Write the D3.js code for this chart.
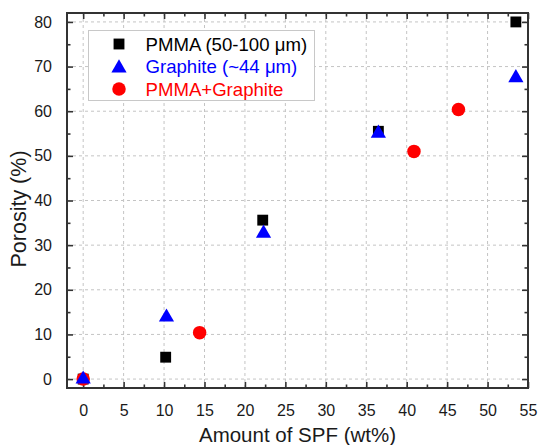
<!DOCTYPE html>
<html>
<head>
<meta charset="utf-8">
<script src="https://cdn.jsdelivr.net/npm/d3@7"></script>
<style>
  html, body { margin: 0; padding: 0; background: #fff; }
  svg { display: block; font-family: Arial, "Liberation Sans", Helvetica, sans-serif; }
</style>
</head>
<body>
<svg id="chart" width="539" height="445"></svg>
<script>
// Porosity vs. amount of space-holder (SPF) for three pore formers
const pmmaX = [0, 10.2, 22.2, 36.5, 53.5];
const pmmaY = [0, 4.9, 35.6, 55.5, 80];
const graphiteX = [0, 10.3, 22.3, 36.5, 53.5];
const graphiteY = [0.3, 14.2, 33.0, 55.4, 67.8];
const mixX = [0, 14.4, 40.9, 46.4];
const mixY = [0, 10.4, 51.0, 60.4];

const seriesNames = ["PMMA (50-100 μm)", "Graphite (~44 μm)", "PMMA+Graphite"];
const xTicks = [0, 5, 10, 15, 20, 25, 30, 35, 40, 45, 50, 55];
const yTicks = [0, 10, 20, 30, 40, 50, 60, 70, 80];
const xTitle = "Amount of SPF (wt%)";
const yTitle = "Porosity (%)";

const svg = d3.select("#chart");
const plotLeft = 67, plotRight = 528, plotTop = 13, plotBottom = 388;

const x = d3.scaleLinear().domain([-2, 55]).range([plotLeft, plotRight]);
const y = d3.scaleLinear().domain([-2, 82]).range([plotBottom, plotTop]);

const axisColor = "#333";
const gridColor = "#c4c4c4";

// dashed major grid
const grid = svg.append("g");
grid.selectAll("line.gx").data(xTicks).join("line")
  .attr("class", "gx")
  .attr("x1", d => x(d)).attr("x2", d => x(d))
  .attr("y1", plotTop).attr("y2", plotBottom)
  .attr("stroke", gridColor).attr("stroke-width", 1).attr("stroke-dasharray", "3,3");
grid.selectAll("line.gy").data(yTicks).join("line")
  .attr("class", "gy")
  .attr("y1", d => y(d)).attr("y2", d => y(d))
  .attr("x1", plotLeft).attr("x2", plotRight)
  .attr("stroke", gridColor).attr("stroke-width", 1).attr("stroke-dasharray", "3,3");

// axes with inward ticks on all four sides
const xMinor = d3.range(0, 55, 2.5).filter(v => v % 5 !== 0);
const yMinor = d3.range(5, 82, 10);

function styleAxis(g) {
  g.select(".domain").remove();
  g.selectAll(".tick line").attr("stroke", axisColor).attr("stroke-width", 1.6);
  g.selectAll("text").attr("fill", "#1a1a1a").style("font-size", "16px");
}

const bottomAxis = d3.axisBottom(x).tickValues(xTicks).tickSizeInner(-6).tickSizeOuter(0).tickPadding(17).tickFormat(d3.format("d"));
svg.append("g").attr("transform", `translate(0,${plotBottom})`).call(bottomAxis).call(styleAxis);
svg.append("g").attr("transform", `translate(0,${plotBottom})`)
  .call(d3.axisBottom(x).tickValues(xMinor).tickSize(-3.5).tickFormat(""))
  .call(styleAxis);

svg.append("g").attr("transform", `translate(0,${plotTop})`)
  .call(d3.axisTop(x).tickValues(xTicks).tickSize(-6).tickFormat(""))
  .call(styleAxis);
svg.append("g").attr("transform", `translate(0,${plotTop})`)
  .call(d3.axisTop(x).tickValues(xMinor).tickSize(-3.5).tickFormat(""))
  .call(styleAxis);

const leftAxis = d3.axisLeft(y).tickValues(yTicks).tickSizeInner(-6).tickSizeOuter(0).tickPadding(15).tickFormat(d3.format("d"));
svg.append("g").attr("transform", `translate(${plotLeft},0)`).call(leftAxis).call(styleAxis);
svg.append("g").attr("transform", `translate(${plotLeft},0)`)
  .call(d3.axisLeft(y).tickValues(yMinor).tickSize(-3.5).tickFormat(""))
  .call(styleAxis);

svg.append("g").attr("transform", `translate(${plotRight},0)`)
  .call(d3.axisRight(y).tickValues(yTicks).tickSize(-6).tickFormat(""))
  .call(styleAxis);
svg.append("g").attr("transform", `translate(${plotRight},0)`)
  .call(d3.axisRight(y).tickValues(yMinor).tickSize(-3.5).tickFormat(""))
  .call(styleAxis);

// frame
svg.append("rect")
  .attr("x", plotLeft).attr("y", plotTop)
  .attr("width", plotRight - plotLeft).attr("height", plotBottom - plotTop)
  .attr("fill", "none").attr("stroke", axisColor).attr("stroke-width", 2);

// markers
const sqSym = d3.symbol().type(d3.symbolSquare).size(118);
const triSym = d3.symbol().type(d3.symbolTriangle).size(100);
const cirSym = d3.symbol().type(d3.symbolCircle).size(143);

const pmma = pmmaX.map((v, i) => [v, pmmaY[i]]);
const graphite = graphiteX.map((v, i) => [v, graphiteY[i]]);
const mix = mixX.map((v, i) => [v, mixY[i]]);

const marks = svg.append("g");
marks.selectAll("path.pmma").data(pmma).join("path")
  .attr("class", "pmma")
  .attr("d", sqSym)
  .attr("transform", d => `translate(${x(d[0])},${y(d[1])})`)
  .attr("fill", "#000");
marks.selectAll("path.mix").data(mix).join("path")
  .attr("class", "mix")
  .attr("d", cirSym)
  .attr("transform", d => `translate(${x(d[0])},${y(d[1])})`)
  .attr("fill", "#ff0000");
// triangle shifted so its bounding box is centred on the point
marks.selectAll("path.graphite").data(graphite).join("path")
  .attr("class", "graphite")
  .attr("d", triSym)
  .attr("transform", d => `translate(${x(d[0])},${y(d[1]) + 1.5})`)
  .attr("fill", "#0000ff");

// legend
const legend = svg.append("g");
legend.append("rect")
  .attr("x", 88.5).attr("y", 30.5).attr("width", 226).attr("height", 70)
  .attr("fill", "#fff").attr("stroke", "#c8c8c8").attr("stroke-width", 1);
const legendColors = ["#000", "#0000ff", "#ff0000"];
const legendSymbols = [sqSym, triSym, cirSym];
const rowY = [44, 66.5, 89];
seriesNames.forEach((name, i) => {
  legend.append("path")
    .attr("d", legendSymbols[i])
    .attr("transform", `translate(119,${rowY[i] + (i === 1 ? 1.5 : 0)})`)
    .attr("fill", legendColors[i]);
  legend.append("text")
    .attr("x", 145.5).attr("y", rowY[i] + 6.5)
    .attr("fill", legendColors[i])
    .style("font-size", "18.6px")
    .text(name);
});

// axis titles
svg.append("text")
  .attr("x", (plotLeft + plotRight) / 2).attr("y", 441.5)
  .attr("text-anchor", "middle")
  .attr("fill", "#1a1a1a")
  .style("font-size", "20.5px")
  .text(xTitle);

svg.append("text")
  .attr("transform", `translate(25.5,209) rotate(-90)`)
  .attr("text-anchor", "middle")
  .attr("fill", "#1a1a1a")
  .style("font-size", "21.5px")
  .text(yTitle);
</script>
</body>
</html>
